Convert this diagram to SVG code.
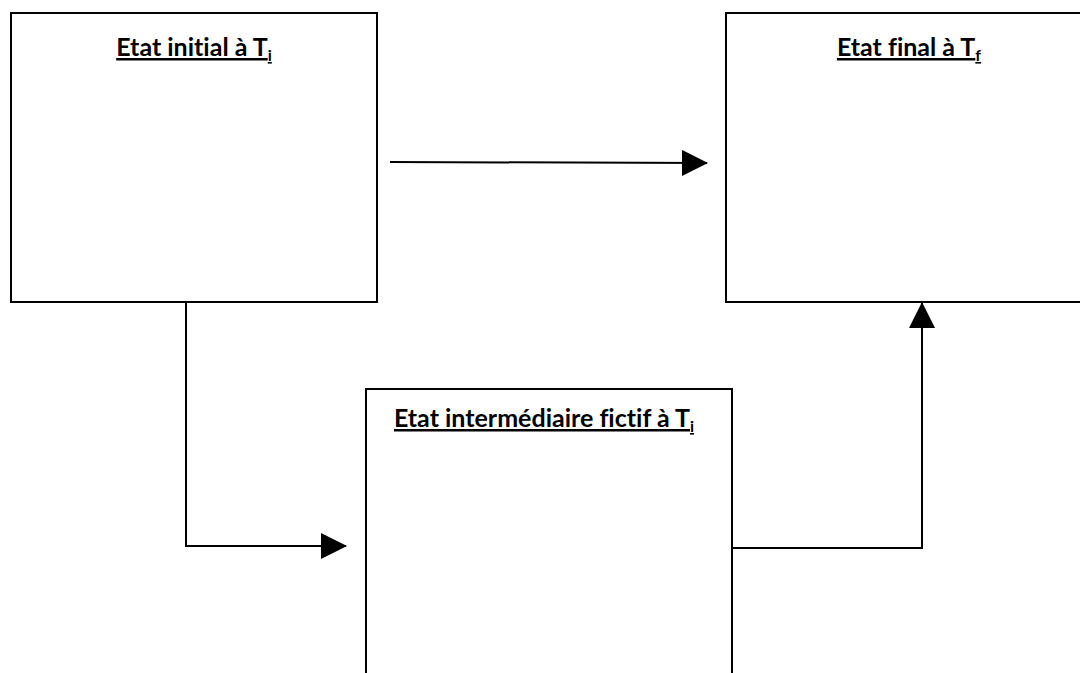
<svg xmlns="http://www.w3.org/2000/svg" width="1080" height="673" viewBox="0 0 1080 673">
<defs>
<style>
.box{fill:#fff;stroke:#000;stroke-width:2}
.lbl{font-family:Lato,"Open Sans","Liberation Sans",sans-serif;font-weight:bold;font-size:25px;text-anchor:middle;text-decoration:underline;fill:#000;font-variant-ligatures:none;font-feature-settings:"liga" 0}
.sub{font-size:16px}
.conn{fill:none;stroke:#000;stroke-width:2}
</style>
<marker id="arr" markerUnits="userSpaceOnUse" markerWidth="26" markerHeight="26" viewBox="0 0 26 26" refX="25" refY="13" orient="auto">
<path d="M0,0 L26,13 L0,26 Z" fill="#000"/>
</marker>
</defs>
<rect width="1080" height="673" fill="#fff"/>
<g id="node-initial">
<rect class="box" x="11" y="13" width="366" height="289"/>
<text class="lbl" x="194" y="56">Etat initial à T<tspan class="sub" dy="5">i</tspan></text>
</g>
<g id="node-final">
<rect class="box" x="726" y="13" width="366" height="289"/>
<text class="lbl" x="909" y="56">Etat final à T<tspan class="sub" dy="5">f</tspan></text>
</g>
<g id="node-intermediate">
<rect class="box" x="366" y="389" width="366" height="300"/>
<text class="lbl" x="544" y="427">Etat intermédiaire fictif à T<tspan class="sub" dy="5">i</tspan></text>
</g>
<g id="connectors">
<path class="conn" d="M390,162 L707,163" marker-end="url(#arr)"/>
<path class="conn" d="M186,302 L186,546 L346,546" marker-end="url(#arr)"/>
<path class="conn" d="M732,548 L922,548 L922,303" marker-end="url(#arr)"/>
</g>
</svg>
